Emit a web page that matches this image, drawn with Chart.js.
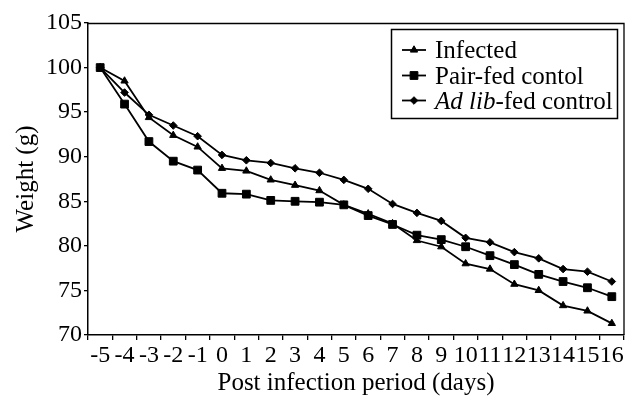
<!DOCTYPE html>
<html>
<head>
<meta charset="utf-8">
<script src="https://cdn.jsdelivr.net/npm/chart.js@4/dist/chart.umd.min.js"></script>
<style>
  html, body { margin: 0; padding: 0; background: #fff; }
  #wrap { width: 636px; height: 400px; position: relative; }
</style>
</head>
<body>
<div id="wrap"><canvas id="c" width="636" height="400"></canvas></div>
<script>
const days = ['-5','-4','-3','-2','-1','0','1','2','3','4','5','6','7','8','9','10','11','12','13','14','15','16'];
const infected = [100, 98.5, 94.4, 92.4, 91.1, 88.7, 88.4, 87.4, 86.8, 86.2, 84.6, 83.6, 82.5, 80.6, 79.9, 78.0, 77.4, 75.7, 75.0, 73.3, 72.7, 71.3];
const pairFed  = [100, 95.9, 91.7, 89.5, 88.5, 85.9, 85.8, 85.1, 85.0, 84.9, 84.6, 83.4, 82.4, 81.2, 80.7, 79.9, 78.9, 77.9, 76.8, 76.0, 75.3, 74.3];
const adLib    = [100, 97.2, 94.7, 93.5, 92.3, 90.2, 89.6, 89.3, 88.7, 88.2, 87.4, 86.4, 84.7, 83.7, 82.8, 80.9, 80.4, 79.3, 78.6, 77.4, 77.1, 76.0];
const yTicks = [70, 75, 80, 85, 90, 95, 100, 105];
const seriesNames = ['Infected', 'Pair-fed contol', 'Ad lib-fed control'];

const FONT = "'Liberation Serif', 'Times New Roman', serif";

function ds(label, data, style, radius) {
  return {
    label, data,
    borderColor: '#000', backgroundColor: '#000',
    borderWidth: 1.8, tension: 0,
    pointStyle: style, pointRadius: radius, pointHoverRadius: radius,
    pointBackgroundColor: '#000', pointBorderColor: '#000', pointBorderWidth: 1
  };
}

const framePlugin = {
  id: 'frame',
  afterDatasetsDraw(chart) {
    const {ctx, chartArea: a} = chart;
    ctx.save();
    ctx.strokeStyle = '#000';
    ctx.lineWidth = 1.3;
    ctx.beginPath();
    ctx.moveTo(a.left, a.top + 0.5);
    ctx.lineTo(a.right, a.top + 0.5);
    ctx.lineTo(a.right, a.bottom);
    ctx.stroke();
    ctx.restore();
  }
};

const legendPlugin = {
  id: 'customLegend',
  afterDraw(chart) {
    const {ctx} = chart;
    ctx.save();
    // box
    ctx.strokeStyle = '#000';
    ctx.lineWidth = 1.5;
    ctx.fillStyle = '#fff';
    ctx.beginPath();
    ctx.rect(391.5, 29.5, 226, 89);
    ctx.fill();
    ctx.stroke();
    const rows = [50, 75.5, 100.5];
    chart.data.datasets.forEach((d, i) => {
      const y = rows[i];
      ctx.strokeStyle = '#000';
      ctx.lineWidth = 1.8;
      ctx.beginPath();
      ctx.moveTo(402, y);
      ctx.lineTo(426, y);
      ctx.stroke();
      ctx.fillStyle = '#000';
      ctx.lineWidth = 1;
      Chart.helpers.drawPoint(ctx, {pointStyle: d.pointStyle, radius: d.pointRadius, borderWidth: 1, rotation: 0}, 414, y);
      ctx.fillStyle = '#000';
      ctx.textBaseline = 'alphabetic';
      ctx.textAlign = 'left';
      const base = y + 8.3;
      if (i === 2) {
        ctx.font = "italic 25px " + FONT;
        const t1 = 'Ad lib';
        ctx.fillText(t1, 435, base);
        const w = ctx.measureText(t1).width;
        ctx.font = "25px " + FONT;
        ctx.fillText('-fed control', 435 + w, base);
      } else {
        ctx.font = "25px " + FONT;
        ctx.fillText(seriesNames[i], 435, base);
      }
    });
    ctx.restore();
  }
};

new Chart(document.getElementById('c'), {
  type: 'line',
  data: {
    labels: days,
    datasets: [
      ds(seriesNames[0], infected, 'triangle', 4.2),
      ds(seriesNames[1], pairFed, 'rect', 5.5),
      ds(seriesNames[2], adLib, 'rectRot', 3.8)
    ]
  },
  options: {
    responsive: false,
    animation: false,
    events: [],
    layout: { padding: { top: 23, right: 12, left: 0, bottom: 0 } },
    plugins: { legend: { display: false }, tooltip: { enabled: false } },
    scales: {
      x: {
        type: 'category',
        offset: true,
        grid: { offset: true, drawOnChartArea: false, drawTicks: true, tickLength: 5, color: '#000', lineWidth: 1.3 },
        border: { color: '#000', width: 1.5 },
        ticks: { color: '#000', font: { family: FONT, size: 24 }, padding: 1, maxRotation: 0, minRotation: 0, autoSkip: false },
        title: { display: true, text: 'Post infection period (days)', color: '#000', font: { family: FONT, size: 25, lineHeight: 1.2 }, padding: { top: 0, bottom: 2 } },
        afterFit(scale) { scale.height = 65; }
      },
      y: {
        min: 70, max: 105,
        afterBuildTicks(scale) { scale.ticks = yTicks.map(v => ({ value: v })); },
        grid: { drawOnChartArea: false, drawTicks: true, tickLength: 4, color: '#000', lineWidth: 1.3 },
        border: { color: '#000', width: 1.5 },
        ticks: { color: '#000', font: { family: FONT, size: 24 }, padding: 2 },
        title: { display: true, text: 'Weight (g)', color: '#000', font: { family: FONT, size: 25, lineHeight: 1.2 }, padding: { top: 11, bottom: 0 } },
        afterFit(scale) { scale.width = 88; }
      }
    }
  },
  plugins: [framePlugin, legendPlugin]
});
</script>
</body>
</html>
